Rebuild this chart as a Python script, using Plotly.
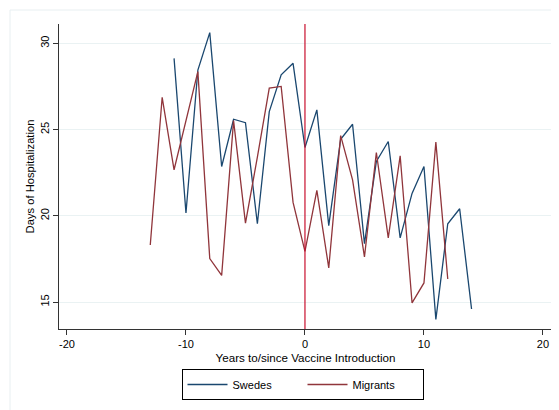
import plotly.graph_objects as go

years_swedes = list(range(-11, 15))
swedes = [29.13, 20.16, 28.45, 30.62, 22.86, 25.6, 25.4, 19.54, 26.04, 28.17,
          28.84, 23.96, 26.14, 19.43, 24.44, 25.31, 18.39, 23.15, 24.31, 18.72,
          21.3, 22.86, 13.99, 19.54, 20.41, 14.6]

years_migrants = list(range(-13, 13))
migrants = [18.31, 26.87, 22.67, 25.5, 28.36, 17.52, 16.55, 25.52, 19.58, 23.4,
            27.4, 27.5, 20.78, 17.94, 21.47, 16.98, 24.65, 22.09, 17.62, 23.67,
            18.72, 23.48, 14.95, 16.11, 24.27, 16.34]

x_ticks = [-20, -10, 0, 10, 20]
x_ticklabels = ["-20", "-10", "0", "10", "20"]
y_ticks = [15, 20, 25, 30]
vaccine_year = 0

FONT = "Liberation Sans, Arial, sans-serif"
OFF = 8  # default body margin of the html page
W, H = 559 - OFF, 410 - OFF
PL, PR, PT, PB = 59, 552, 24, 329   # plot area in page pixels
L, T = PL - OFF, PT - OFF
R, B = W - (PR - OFF), H - (PB - OFF)
pw, ph = PR - PL, PB - PT


def px_x(p):
    return (p - PL) / pw


def px_y(p):
    return (PB - p) / ph


fig = go.Figure()
fig.add_trace(go.Scatter(x=years_swedes, y=swedes, mode="lines", name="Swedes",
                         line=dict(color="#1a476f", width=1.3)))
fig.add_trace(go.Scatter(x=years_migrants, y=migrants, mode="lines", name="Migrants",
                         line=dict(color="#90353b", width=1.3)))

fig.add_shape(type="line", xref="x", yref="paper", x0=vaccine_year, x1=vaccine_year,
              y0=0, y1=1, line=dict(color="#c8102e", width=1.2), layer="above")

# faint outer graph-region frame
fig.add_shape(type="rect", xref="paper", yref="paper",
              x0=px_x(10), x1=px_x(558), y0=px_y(440), y1=px_y(10),
              line=dict(color="#e8eff1", width=1), fillcolor="rgba(0,0,0,0)", layer="below")

fig.update_layout(
    width=W, height=H,
    margin=dict(l=L, r=R, t=T, b=B, autoexpand=False),
    paper_bgcolor="white", plot_bgcolor="white",
    font=dict(family=FONT, size=11, color="black"),
    showlegend=True,
    legend=dict(orientation="h", x=px_x(302.5), xanchor="center",
                y=px_y(369), yanchor="top",
                bordercolor="black", borderwidth=1, bgcolor="white",
                font=dict(family=FONT, size=11), entrywidth=65, itemwidth=40,
                tracegroupgap=0),
    xaxis=dict(range=[-20.67, 20.76], tickvals=x_ticks, ticktext=x_ticklabels,
               ticks="outside", ticklen=5, automargin=False,
               tickcolor="#333", showline=True, linecolor="#333", linewidth=1,
               showgrid=False, zeroline=False, tickfont=dict(size=11),
               title=dict(text="Years to/since Vaccine Introduction", standoff=4,
                          font=dict(size=11.6))),
    yaxis=dict(range=[13.44, 31.12], tickvals=y_ticks, ticks="outside", ticklen=5,
               automargin=False,
               tickcolor="#333", showline=True, linecolor="#333", linewidth=1,
               showgrid=True, gridcolor="#eaf2f3", gridwidth=1, zeroline=False,
               tickangle=-90, tickfont=dict(size=11),
               title=dict(text="Days of Hospitalization", standoff=1,
                          font=dict(size=11.2))),
)

fig.write_html("out.html")
